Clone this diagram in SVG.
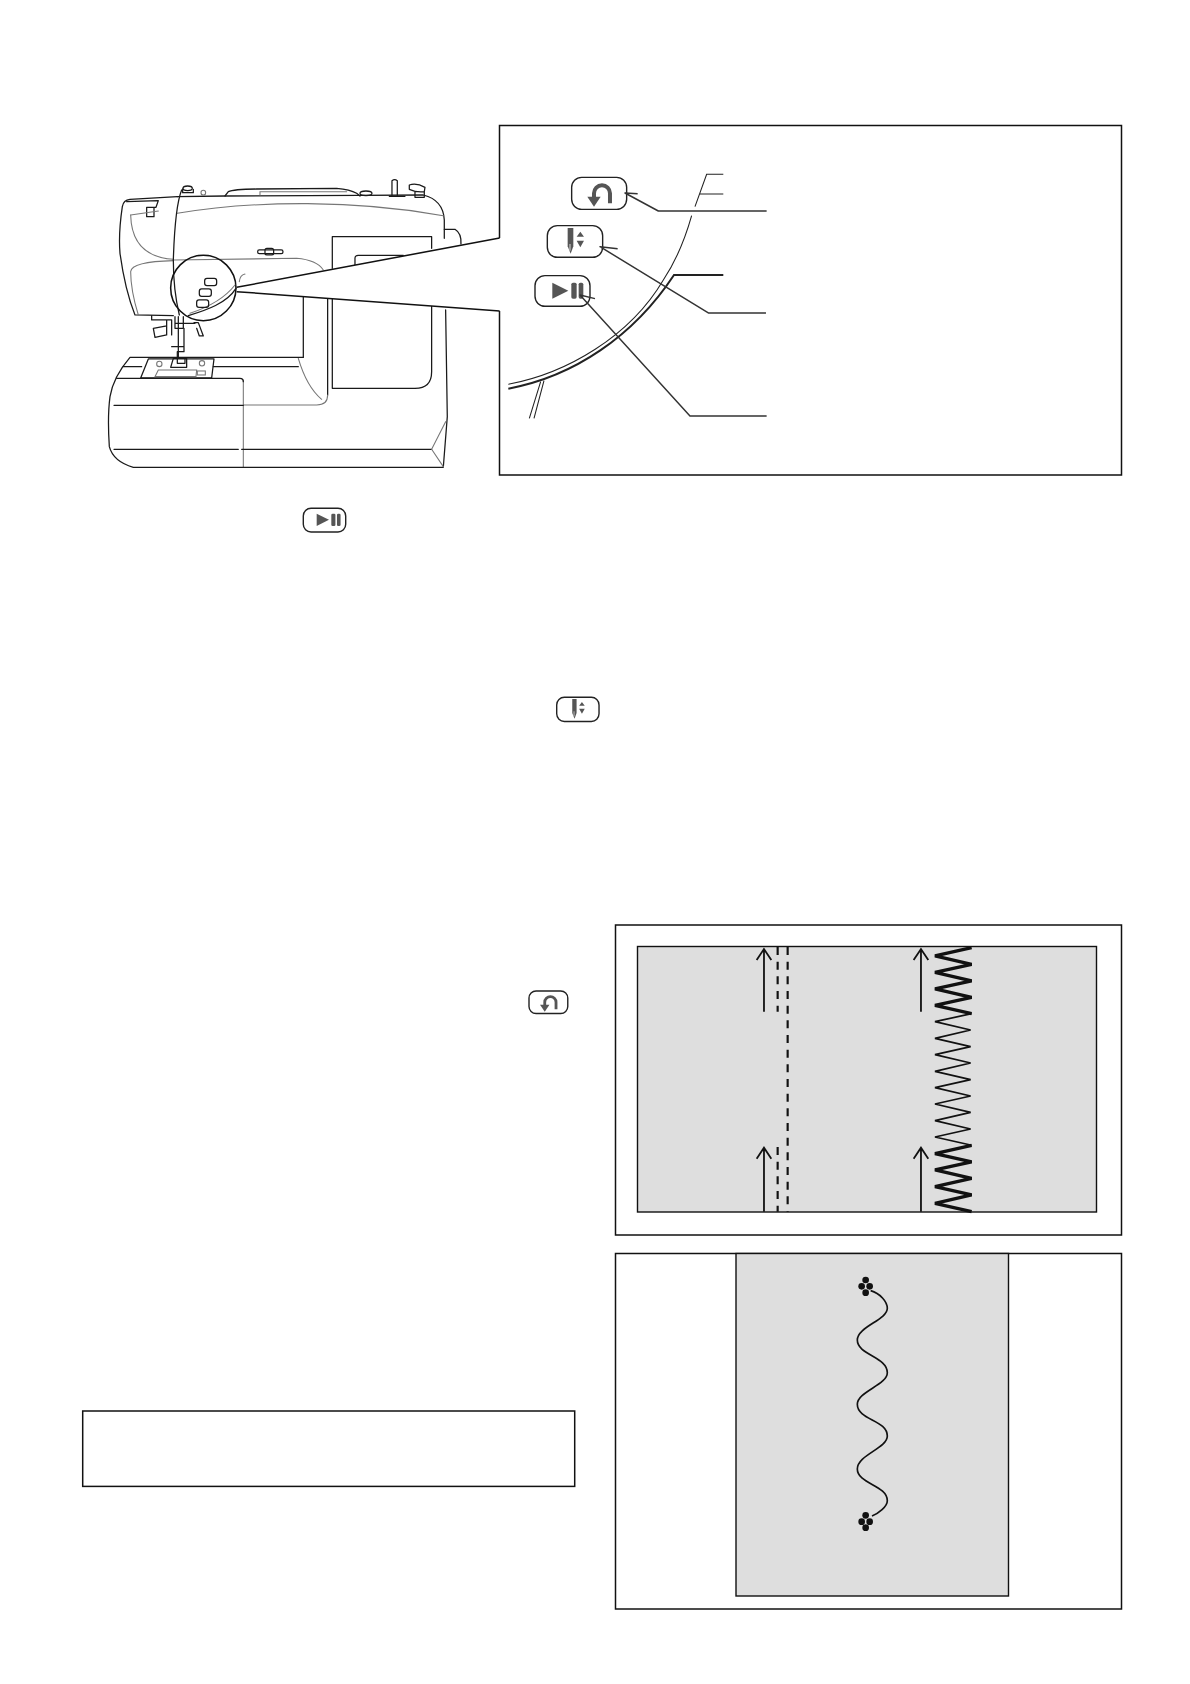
<svg xmlns="http://www.w3.org/2000/svg" width="1190" height="1684" viewBox="0 0 1190 1684">
<style>
.frame{fill:none;stroke:#111;stroke-width:1.5}
.paper{fill:#dedede;stroke:#111;stroke-width:1.4}
.m{fill:none;stroke:#1a1a1a;stroke-width:3.8;stroke-linejoin:round;stroke-linecap:round}
.m2{fill:none;stroke:#111;stroke-width:4.6;stroke-linejoin:round}
.g{fill:none;stroke:#777;stroke-width:3.2;stroke-linecap:round}
.k{fill:none;stroke:#111;stroke-width:5.4}
.d{fill:none;stroke:#111;stroke-width:6.5;stroke-dasharray:24 20}
.z1{fill:none;stroke:#111;stroke-width:10}
.z2{fill:none;stroke:#111;stroke-width:5}
.btn{fill:none;stroke:#222;stroke-width:1.4;vector-effect:non-scaling-stroke}
.ic{fill:#555;stroke:none}
.lead{fill:none;stroke:#333;stroke-width:4.4;stroke-linejoin:round}
</style>
<defs>
<g id="icon-rev"><rect class="btn" x="0" y="0" width="165" height="96" rx="30"/><path d="M115 78V48A23 23 0 0 0 67 48V62" fill="none" stroke="#555" stroke-width="12"/><path class="ic" d="M47 58H87L67 88Z"/></g>
<g id="icon-needle"><rect class="btn" x="0" y="0" width="166" height="95" rx="30"/><path class="ic" d="M61 7H78V62L70 84L61 62Z"/><path d="M68 55V75" stroke="#ddd" stroke-width="3"/><path class="ic" d="M99 18L110 33H88ZM88 45H110L99 65Z"/></g>
<g id="icon-play"><rect class="btn" x="0" y="0" width="165" height="92" rx="30"/><path class="ic" d="M52 21L100 45L52 69Z"/><rect class="ic" x="109" y="21" width="16" height="48" rx="5"/><rect class="ic" x="131" y="21" width="14" height="48" rx="5"/></g>
</defs>

<g id="machine" transform="translate(90 150) scale(.3333)">
<path class="m" d="M262 140L120 148Q100 150 97 170Q85 250 90 310Q105 420 135 495L250 497"/>
<path class="m" d="M262 140L405 138L810 136L1000 135Q1060 150 1063 210V265"/>
<path class="g" d="M262 190C500 150 800 150 1060 197"/>
<path class="g" d="M122 195Q125 320 250 328"/>
<path class="g" d="M250 332Q125 335 122 365Q122 420 145 495"/>
<path class="g" d="M250 330L620 325Q680 330 700 360"/>
<path class="m" d="M275 120Q255 170 250 330Q250 420 268 495"/>
<path class="m" d="M405 138L415 125Q430 118 500 117L740 115Q780 118 800 130L810 138"/>
<path class="g" d="M510 135V125H770"/>
<ellipse class="m" cx="293" cy="115" rx="14" ry="7"/><path class="m" d="M278 117V128H310V118"/><circle class="g" cx="340" cy="128" r="7"/>
<ellipse class="m" cx="828" cy="130" rx="18" ry="7"/>
<path class="m" d="M906 135V92Q914 86 922 92V135M898 139H945M958 105Q980 98 1005 112L1003 125Q980 128 958 118ZM975 125V142H1003V125"/>
<path class="m" d="M1063 238H1095Q1115 250 1113 282"/>
<path class="m" d="M110 155L205 152L198 172H170V200H192V172"/><path class="g" d="M122 195L205 183"/>
<rect class="m" x="503" y="300" width="76" height="11" rx="5"/><rect class="m" x="525" y="295" width="26" height="20" rx="6"/>
<path class="m" d="M727 355V260H1025V295M727 447V715H975Q1025 715 1025 665V468"/>
<path class="m" d="M795 345V325Q795 316 805 316H940"/>
<path class="m" d="M640 440V622M713 447V735"/>
<path class="g" d="M713 735Q713 765 680 765H462M460 690V952"/>
<path class="g" d="M625 625Q650 710 695 748"/>
<path class="m" d="M1067 480L1072 800L1060 952H130Q70 935 58 890Q52 800 60 740Q70 680 120 622H640"/>
<path class="m" d="M80 685H450Q460 685 460 695M72 766H460M72 898H445M455 898H1025M100 650H155M370 650H625"/>
<path class="g" d="M1025 898L1067 815M1025 898L1060 950"/>
<path class="m" d="M175 627H372L365 684H152Z"/>
<path class="g" d="M205 660H320L318 680H195Z"/><circle class="g" cx="208" cy="642" r="8"/><circle class="g" cx="336" cy="640" r="8"/><rect class="g" x="322" y="663" width="24" height="12"/>
<path class="m" d="M185 497V510H230M230 510V555L195 562L190 535L230 528M245 510V555M232 510H245M255 500V535H280V500M265 500V620M255 520H315M312 518H325L340 558L328 558L320 535"/>
<path class="m" d="M282 535V600M245 590H282V605H262V640H285V625M242 652L250 625H290L290 652Z"/>
<path d="M440 412L1229 264V483L440 425Z" fill="#fff"/>
<path class="m2" d="M440 412L1229 264M440 425L1229 483"/>
<circle class="m2" cx="340" cy="414" r="98"/>
<path class="m" d="M295 497C350 480 410 460 438 415"/><path class="g" d="M300 490C345 475 400 450 435 405"/>
<path class="g" d="M448 395Q450 375 465 372"/>
<rect class="m" x="344" y="385" width="36" height="22" rx="7"/><rect class="m" x="328" y="417" width="36" height="22" rx="7"/><rect class="m" x="320" y="450" width="36" height="22" rx="7"/>
</g>

<g id="detail-frame"><path class="frame" d="M499.5 238V125.5H1121.5V475H499.5V311"/></g>
<g id="detail" transform="translate(490 150) scale(.3333)">
<path d="M55 716C250 680 430 560 552 375H700" fill="none" stroke="#222" stroke-width="6"/>
<path d="M55 703C230 670 420 560 520 390C560 330 590 250 605 197M615 170L650 73H700M630 132H700" fill="none" stroke="#222" stroke-width="3.2"/>
<path d="M162 692L132 805M152 695L118 805" fill="none" stroke="#222" stroke-width="3.2"/>
<use id="detail-rev" href="#icon-rev" x="245" y="82"/>
<use id="detail-needle" href="#icon-needle" x="172" y="227"/>
<use id="detail-play" href="#icon-play" x="135" y="377"/>
</g>
<g id="connectors" transform="translate(490 150) scale(.3333)">
<path class="lead" d="M443 131L405 129L505 183H830"/>
<path class="lead" d="M383 296L330 290L655 489H828"/>
<path class="lead" d="M315 446L270 435L600 798H830"/>
</g>

<g id="inline-icons">
<use href="#icon-play" transform="translate(303.3 508.3) scale(.257)"/>
<use href="#icon-needle" transform="translate(556.7 697.3) scale(.255)"/>
<use href="#icon-rev" transform="translate(529 991) scale(.235)"/>
</g>

<g id="note-box"><rect class="frame" x="82.7" y="1411" width="492" height="75.4"/></g>

<g id="stitch-panel">
<rect class="frame" x="615.5" y="925" width="506" height="310"/>
<rect class="paper" x="637.5" y="946.5" width="459" height="265.5"/>
<g transform="translate(620 925) scale(.3333)">
<path class="k" d="M432 260V72M410 105L432 72L454 105M432 860V668M410 701L432 668L454 701M903 260V72M881 105L903 72L925 105M903 860V668M881 701L903 668L925 701"/>
<path class="d" d="M473 66V260M473 666V860M503 66V860"/>
<path class="z1" d="M1055 68L945 93L1055 118L945 142L1055 168L945 192L1055 217L945 241L1055 266"/>
<path class="z2" d="M1055 266L945 290L1052 315L945 340L1052 365L945 389L1052 414L945 439L1052 464L945 488L1052 513L945 537L1052 562L945 587L1052 612L945 636L1055 661"/>
<path class="z1" d="M1055 661L945 686L1055 711L945 735L1055 760L945 785L1055 810L945 835L1055 860"/>
</g>
</g>

<g id="wave-panel">
<rect class="frame" x="615.5" y="1253.5" width="506" height="355.5"/>
<rect class="paper" x="736" y="1253.5" width="272.5" height="342.5"/>
<g transform="translate(780 1260) scale(.3333)">
<path class="z2" d="M272 92C300 100 322 125 322 145C322 180 232 200 232 240C232 285 322 290 322 338C322 375 232 395 232 433C232 480 322 480 322 528C322 565 232 585 232 627C232 672 322 675 322 722C322 740 295 760 276 768"/>
<g fill="#111"><circle cx="257" cy="60" r="10"/><circle cx="245" cy="79" r="10"/><circle cx="269" cy="79" r="10"/><circle cx="257" cy="98" r="10"/><circle cx="257" cy="766" r="10"/><circle cx="245" cy="785" r="10"/><circle cx="269" cy="785" r="10"/><circle cx="257" cy="803" r="10"/></g>
</g>
</g>
</svg>
